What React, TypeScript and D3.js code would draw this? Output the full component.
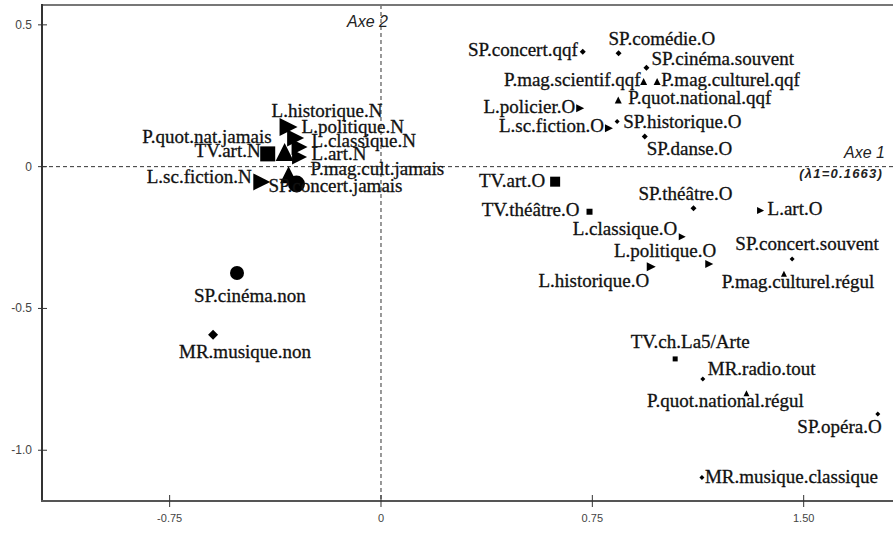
import React from "react";
import * as d3 from "d3";

// ---- data (coordinates on factorial axes 1 and 2) ----
const categories = [
  "L.historique.N", "L.politique.N", "L.classique.N", "L.art.N", "P.quot.nat.jamais",
  "P.mag.cult.jamais", "SP.concert.jamais", "TV.art.N", "L.sc.fiction.N", "SP.cinéma.non",
  "MR.musique.non", "SP.concert.qqf", "SP.comédie.O", "SP.cinéma.souvent", "P.mag.scientif.qqf",
  "P.mag.culturel.qqf", "P.quot.national.qqf", "L.policier.O", "L.sc.fiction.O", "SP.historique.O",
  "SP.danse.O", "TV.art.O", "TV.théâtre.O", "SP.théâtre.O", "L.art.O",
  "L.classique.O", "L.politique.O", "L.historique.O", "SP.concert.souvent", "P.mag.culturel.régul",
  "TV.ch.La5/Arte", "MR.radio.tout", "P.quot.national.régul", "SP.opéra.O", "MR.musique.classique",
];
const axis1 = [
  -0.328, -0.303, -0.289, -0.289, -0.342,
  -0.328, -0.300, -0.402, -0.423, -0.511,
  -0.596, 0.716, 0.843, 0.942, 0.932,
  0.980, 0.842, 0.707, 0.809, 0.838,
  0.936, 0.618, 0.740, 1.109, 1.347,
  1.069, 1.165, 0.959, 1.459, 1.430,
  1.044, 1.142, 1.297, 1.763, 1.139,
];
const axis2 = [
  0.140, 0.101, 0.069, 0.034, 0.052,
  -0.029, -0.061, 0.045, -0.054, -0.375,
  -0.593, 0.405, 0.400, 0.349, 0.300,
  0.300, 0.235, 0.206, 0.135, 0.159,
  0.106, -0.053, -0.159, -0.147, -0.155,
  -0.247, -0.343, -0.353, -0.326, -0.378,
  -0.678, -0.749, -0.799, -0.872, -1.096,
];
const markerShape = [
  "triRight", "triRight", "triRight", "triRight", "triUp",
  "triUp", "circle", "square", "triRight", "circle",
  "diamond", "diamond", "diamond", "diamond", "triUp",
  "triUp", "triUp", "triRight", "triRight", "diamond",
  "diamond", "square", "square", "diamond", "triRight",
  "triRight", "triRight", "triRight", "diamond", "triUp",
  "square", "diamond", "triUp", "diamond", "diamond",
];
const markerSize = [
  18, 17, 16, 15, 18,
  17, 17, 15, 17, 14,
  10, 6, 6, 6, 7,
  7, 7, 8, 8, 5,
  6, 10, 6, 6, 7,
  7, 8, 9, 5, 6,
  5, 5, 6, 5, 5,
];
// label placement relative to the marker: [dx, dy, anchor]
const labelDx = [
  -17, 6, 12, 12, -13,
  22, -28, -7, -10, -43,
  -34, -5, -10, 5, -3,
  4, 10, -5, -5, 6,
  2, -10, -10, -8, 7,
  -5, 7, -2, 15, 14,
  15, 5, -21, 4, 3,
];
const labelDy = [
  -10, -5, 0, 3, -9,
  0, 8, 3, 1, 29,
  23, 4, -8, -3, 4,
  4, 4, 5, 4, 6,
  18, 5, 4, -8, 4,
  -2, -7, 20, -9, 14,
  -11, -4, 14, 19, 6,
];
const labelAnchor = [
  "start", "start", "start", "start", "end",
  "start", "start", "end", "end", "start",
  "start", "end", "start", "start", "end",
  "start", "start", "end", "end", "start",
  "start", "end", "end", "middle", "start",
  "end", "end", "end", "middle", "middle",
  "middle", "start", "middle", "end", "start",
];
const xTicks = [-0.75, 0, 0.75, 1.5];
const xTickLabels = ["-0.75", "0", "0.75", "1.50"];
const yTicks = [0.5, 0, -0.5, -1.0];
const yTickLabels = ["0.5", "0", "-0.5", "-1.0"];

const W = 893;
const H = 534;
const left = 42;
const top = 5;
const bottom = 501;
const right = 893;

function markerPath(shape: string, s: number): string {
  const h = s / 2;
  const p = d3.path();
  if (shape === "square") {
    p.rect(-h, -h, s, s);
  } else if (shape === "diamond") {
    p.moveTo(0, -h); p.lineTo(h, 0); p.lineTo(0, h); p.lineTo(-h, 0); p.closePath();
  } else if (shape === "triUp") {
    p.moveTo(0, -h); p.lineTo(h, h); p.lineTo(-h, h); p.closePath();
  } else if (shape === "triRight") {
    p.moveTo(-h, -h); p.lineTo(h, 0); p.lineTo(-h, h); p.closePath();
  } else {
    p.arc(0, 0, h, 0, Math.PI * 2); p.closePath();
  }
  return p.toString();
}

export default function App() {
  const x = d3.scaleLinear().domain([-1.203, 1.817]).range([left, right]);
  const y = d3.scaleLinear().domain([-1.179, 0.570]).range([bottom, top]);
  const x0 = x(0);
  const y0 = y(0);
  const serif = "'Liberation Serif', 'Times New Roman', serif";
  const sans = "'Liberation Sans', Arial, sans-serif";
  return (
    <svg width={W} height={H} style={{ position: "absolute", left: 0, top: 0, background: "#fff" }}>
      <rect x={0} y={0} width={W} height={H} fill="#fff" />
      {/* dashed axes */}
      <line x1={left} x2={right} y1={y0} y2={y0} stroke="#333" strokeDasharray="4,3" strokeWidth={1} />
      <line x1={x0} x2={x0} y1={top} y2={bottom} stroke="#333" strokeDasharray="4,3" strokeWidth={1} />
      {/* frame */}
      <line x1={left} x2={right} y1={top} y2={top} stroke="#777" strokeWidth={2} />
      <line x1={left} x2={left} y1={top - 1} y2={bottom + 1} stroke="#333" strokeWidth={2} />
      <line x1={left - 1} x2={right} y1={bottom} y2={bottom} stroke="#555" strokeWidth={2} />
      {/* y ticks */}
      {yTicks.map((t, i) => (
        <g key={"yt" + i}>
          <line x1={left - 4} x2={left + 5} y1={y(t)} y2={y(t)} stroke="#333" strokeWidth={1} />
          <text x={32} y={y(t) + 4} textAnchor="end" fontFamily={sans} fontSize={12} fill="#444">
            {yTickLabels[i]}
          </text>
        </g>
      ))}
      {/* x ticks */}
      {xTicks.map((t, i) => (
        <g key={"xt" + i}>
          <line x1={x(t)} x2={x(t)} y1={bottom - 6} y2={bottom + 6} stroke="#333" strokeWidth={1} />
          <text x={x(t)} y={bottom + 21} textAnchor="middle" fontFamily={sans} fontSize={11} fill="#444">
            {xTickLabels[i]}
          </text>
        </g>
      ))}
      {/* axis titles */}
      <text x={388} y={27} textAnchor="end" fontFamily={sans} fontStyle="italic" fontSize={16} fill="#222">Axe 2</text>
      <text x={885} y={158} textAnchor="end" fontFamily={sans} fontStyle="italic" fontSize={16} fill="#222">Axe 1</text>
      <text x={883} y={178} textAnchor="end" fontFamily={sans} fontStyle="italic" fontWeight="bold" fontSize={13} letterSpacing={1.2} fill="#222">(λ1=0.1663)</text>
      {/* points */}
      {categories.map((c, i) => (
        <path
          key={"m" + i}
          d={markerPath(markerShape[i], markerSize[i])}
          transform={`translate(${x(axis1[i])},${y(axis2[i])})`}
          fill="#000"
        />
      ))}
      {/* labels */}
      {categories.map((c, i) => (
        <text
          key={"l" + i}
          x={x(axis1[i]) + labelDx[i]}
          y={y(axis2[i]) + labelDy[i]}
          textAnchor={labelAnchor[i]}
          fontFamily={serif}
          fontSize={19}
          fill="#111"
          stroke="#111"
          strokeWidth={0.3}
        >
          {c}
        </text>
      ))}
    </svg>
  );
}
